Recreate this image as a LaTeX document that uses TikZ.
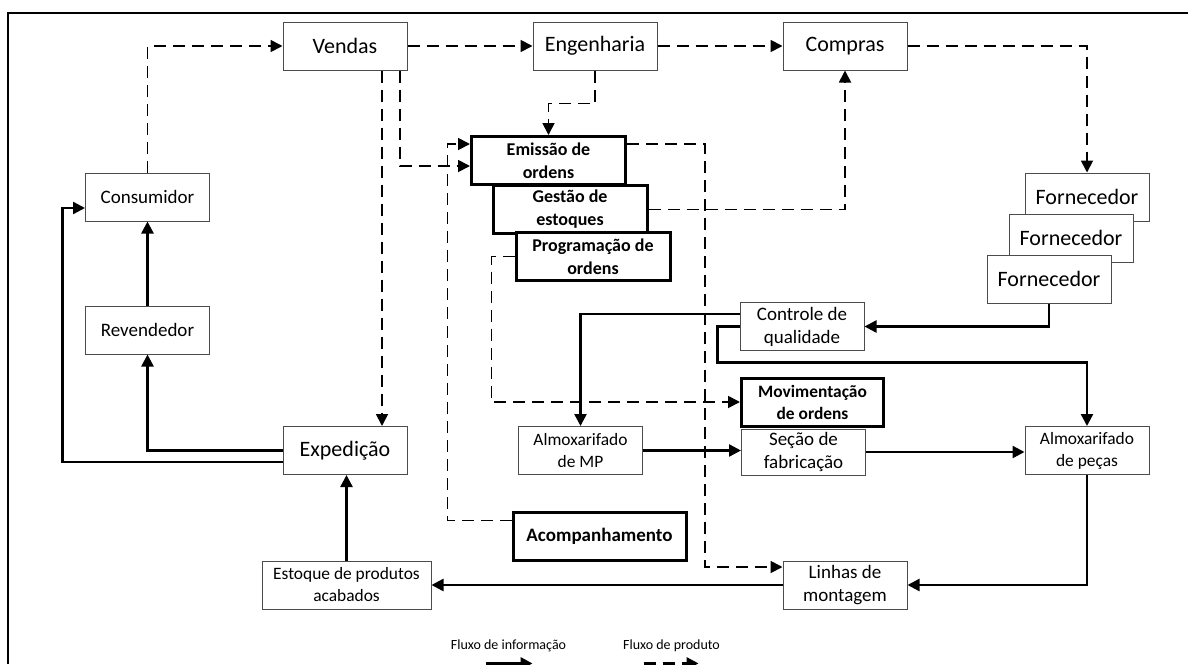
\documentclass[tikz,border=0pt]{standalone}
\usepackage{fontspec}
\setmainfont{Carlito}
\usetikzlibrary{positioning,arrows.meta,calc}

\begin{document}
\begin{tikzpicture}[x=0.5pt,y=-0.5pt,
    box/.style={draw=black!70, line width=0.5pt, fill=white, minimum width=62pt, minimum height=24pt, inner sep=1pt, align=center, font=\fontsize{9.5}{11.5}\selectfont},
    bigbox/.style={box, font=\fontsize{11}{13}\selectfont},
    smallbox/.style={box, font=\fontsize{8.7}{11}\selectfont},
    orderbox/.style={draw, line width=1.5pt, fill=white, minimum width=77pt, minimum height=24pt, inner sep=1pt, align=center, font=\bfseries\fontsize{9}{11.5}\selectfont},
    info/.style={-{Triangle[length=6pt,width=6pt]}, line width=1.2pt},
    prod/.style={-{Triangle[length=6pt,width=6pt]}, line width=0.9pt, dash pattern=on 6pt off 3.5pt}]
    \useasboundingbox (0,0) rectangle (1188,664);
    \draw[line width=1.3pt] (8,664) -- (8,13) -- (1188,13);

    % departamentos
    \node[bigbox] (vendas) at (345,46) {Vendas};
    \node[bigbox] (engenharia) at (595,46) {Engenharia};
    \node[bigbox] (compras) at (845,46) {Compras};
    \node[box] (consumidor) at (147.5,197) {Consumidor};
    \node[box] (revendedor) at (147.5,330) {Revendedor};
    \node[bigbox] (expedicao) at (345,450.5) {Expedição};
    \node[smallbox, minimum width=84.5pt] (estoque) at (346.5,585) {Estoque de produtos\\acabados};

    % ordens
    \node[orderbox] (emissao) at (548.5,160.5) {Emissão de\\ordens};
    \node[orderbox] (gestao) at (570,209.5) {Gestão de\\estoques};
    \node[orderbox] (programacao) at (593,256.5) {Programação de\\ordens};

    % fornecedores
    \node[bigbox] (forn1) at (1087,197) {Fornecedor};
    \node[bigbox] (forn2) at (1071,238) {Fornecedor};
    \node[bigbox] (forn3) at (1049,279) {Fornecedor};

    % fabrica
    \node[box] (controle) at (802,326.5) {Controle de\\qualidade};
    \node[smallbox] (almoxmp) at (580.5,450.5) {Almoxarifado\\de MP};
    \node[box, minimum height=23pt] (secao) at (803.5,452) {Seção de\\fabricação};
    \node[orderbox, minimum width=71pt, font=\bfseries\fontsize{8.7}{11}\selectfont] (movimentacao) at (812.5,402) {Movimentação\\de ordens};
    \node[smallbox] (almoxpecas) at (1087,450.5) {Almoxarifado\\de peças};
    \node[orderbox, minimum width=86.5pt, font=\bfseries\fontsize{9.5}{12}\selectfont] (acompanhamento) at (599.5,536.5) {Acompanhamento};
    \node[box] (linhas) at (845,585) {Linhas de\\montagem};

    % tracejado
    \draw[prod] (consumidor.north) |- (vendas.west);
    \draw[prod] (vendas) -- (engenharia);
    \draw[prod] (engenharia) -- (compras);
    \draw[prod] (compras.east) -| (forn1.north);
    \draw[prod] (engenharia.south) -- ++(0,33) -| (emissao.north);
    \draw[prod] ([xshift=18.5pt]vendas.south) -- ([xshift=18.5pt]expedicao.north);
    \draw[prod] ([xshift=27.5pt]vendas.south) |- ([yshift=-2.75pt]emissao.west);
    \draw[prod] ([yshift=8.25pt]emissao.east) -- ++(78,0) |- ([yshift=9pt]linhas.west);
    \draw[prod] (gestao.east) -| (compras.south);
    \draw[prod] ([yshift=8pt]acompanhamento.west) -- ++(-64,0) |- ([yshift=8.25pt]emissao.west);
    \draw[prod] (programacao.west) -- ++(-23,0) |- (movimentacao.west);

    % continuo
    \draw[info] (forn3.south) |- (controle.east);
    \draw[info] ([yshift=6.25pt]controle.west) -| (almoxmp.north);
    \draw[info] (controle.west) -- ++(-22,0) -- ++(0,36) -| (almoxpecas.north);
    \draw[info] (almoxmp.east) -- (almoxmp.east -| secao.west);
    \draw[info] (secao.east) -- (secao.east -| almoxpecas.west);
    \draw[info] (almoxpecas.south) |- (linhas.east);
    \draw[info] (linhas) -- (estoque);
    \draw[info] (estoque.north) -- (estoque.north |- expedicao.south);
    \draw[info] (expedicao.west) -| (revendedor.south);
    \draw[info] ([yshift=-5.75pt]expedicao.west) -- ++(-220,0) |- ([yshift=-5.5pt]consumidor.west);
    \draw[info] (revendedor) -- (consumidor);

    % legenda
    \node[font=\fontsize{7}{8}\selectfont, inner sep=0pt] (leginfo) at (508.5,646) {Fluxo de informação};
    \node[font=\fontsize{7}{8}\selectfont, inner sep=0pt] (legprod) at (671.5,646) {Fluxo de produto};
    \draw[info, line width=1.4pt] (leginfo.south) ++(-23,11) -- ++(47,0);
    \draw[prod, line width=1.2pt] (legprod.south) ++(-28,11) -- ++(55,0);
\end{tikzpicture}
\end{document}
